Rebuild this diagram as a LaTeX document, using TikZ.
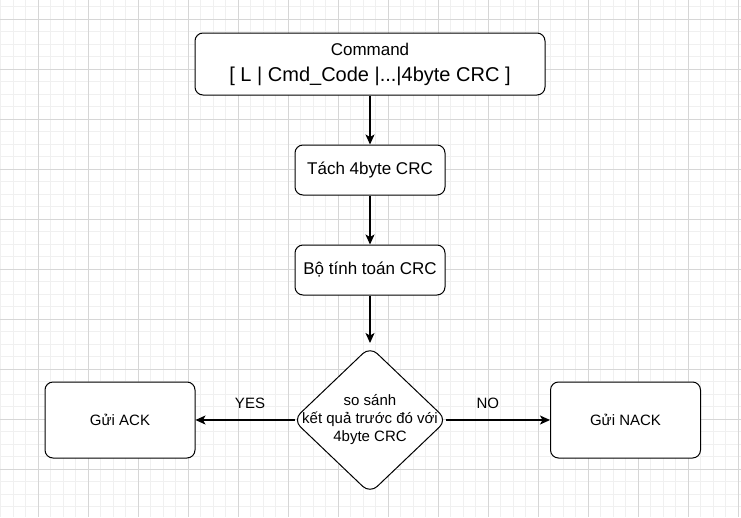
\documentclass[tikz,border=0pt]{standalone}
\usepackage{fontspec}
\setmainfont{Liberation Sans}
\usetikzlibrary{arrows.meta,shapes.geometric}
\begin{document}
\begin{tikzpicture}[x=1pt,y=-1pt,
  box/.style={draw, rounded corners=8pt, line width=1pt, fill=white, align=center},
  flow/.style={line width=1.2pt, -{Stealth[length=10pt,width=9pt,inset=2.5pt]}},
  big/.style={font=\fontsize{17}{20}\selectfont},
  small/.style={font=\fontsize{15}{18}\selectfont}]
\useasboundingbox (0,0) rectangle (741,517);
\fill[white] (0,0) rectangle (741,517);
% grid
\foreach \x in {0.5,13,...,741} {\draw[black!6, line width=.8pt] (\x,0)--(\x,517);}
\foreach \y in {6.5,19,...,517} {\draw[black!6, line width=.8pt] (0,\y)--(741,\y);}
\foreach \x in {38,88,...,741} {\draw[black!16, line width=.8pt] (\x,0)--(\x,517);}
\foreach \y in {19,69,...,517} {\draw[black!16, line width=.8pt] (0,\y)--(741,\y);}
% boxes
\node[box, minimum width=350, minimum height=62, font=\fontsize{20}{26}\selectfont] (cmd) at (370,64)
  {{\fontsize{17}{20}\selectfont Command}\\ {[} L | Cmd\_Code |...|4byte CRC ]};
\node[box, big, minimum width=150, minimum height=50] (split) at (370,170) {Tách 4byte CRC};
\node[box, big, minimum width=150, minimum height=50] (calc) at (370,270) {Bộ tính toán CRC};
\node[draw, diamond, rounded corners=10pt, line width=1pt, fill=white, inner sep=0pt,
  minimum width=154, minimum height=147] (cmp) at (370,420) {};
\node[small, align=center] (cmptext) at (cmp) {so sánh\\kết quả trước đó với\\4byte CRC};
\node[box, small, minimum width=150, minimum height=76] (ack) at (120,420) {Gửi ACK};
\node[box, small, minimum width=150, minimum height=76] (nack) at (625.5,420) {Gửi NACK};
% arrows
\draw[flow] (cmd) -- (split);
\draw[flow] (split) -- (calc);
\draw[flow] (calc) -- ([yshift=3pt]cmp.north);
\draw[flow] ([xshift=2pt]cmp.west) -- node[small, above=7pt, xshift=5pt] (yes) {YES} (ack);
\draw[flow] ([xshift=-2pt]cmp.east) -- node[small, above=7pt, xshift=-10pt] (no) {NO} (nack);
\end{tikzpicture}
\end{document}
